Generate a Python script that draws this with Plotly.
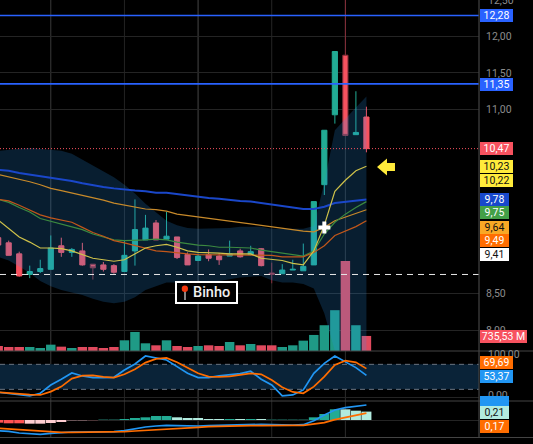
import plotly.graph_objects as go

candle_index = list(range(-1, 35))
opens = [9.26,9.19,9.04,8.76,8.80,8.83,9.15,9.06,9.08,8.90,8.89,8.88,8.80,9.08,9.23,9.46,9.24,9.27,9.03,8.95,9.03,9.01,9.01,9.08,9.03,9.11,8.78,8.77,8.82,8.81,8.89,9.98,10.93,11.74,10.66,10.90]
highs = [9.28,9.22,9.07,8.88,8.96,9.29,9.26,9.12,9.19,8.90,8.93,8.90,9.22,9.78,9.57,9.50,9.61,9.27,9.06,9.04,9.10,9.05,9.22,9.11,9.15,9.12,8.92,8.90,8.96,9.18,9.75,10.72,11.79,12.55,11.25,11.04]
lows = [9.16,9.02,8.73,8.71,8.78,8.83,9.00,9.00,8.88,8.69,8.80,8.77,8.80,8.88,9.23,9.23,9.23,8.97,8.89,8.95,8.94,8.89,9.01,8.99,9.02,8.87,8.64,8.77,8.82,8.81,8.89,9.84,10.81,10.65,10.66,10.42]
closes = [9.16,9.02,8.74,8.80,8.84,9.12,9.06,9.10,8.89,8.85,8.83,8.79,9.02,9.37,9.39,9.23,9.28,8.99,8.89,9.01,8.98,8.96,9.04,9.00,9.07,8.88,8.76,8.82,8.83,8.87,9.75,10.72,11.79,10.65,10.69,10.47]
volumes = [245,196,196,196,147,310,212,147,196,196,147,196,523,931,376,278,523,245,196,245,278,245,441,278,343,278,278,196,278,506,784,1259,1994,4395,1259,735.53]

ma_yellow = [9.50,9.39,9.27,9.20,9.12,9.12,9.11,9.08,9.03,8.98,8.96,8.94,8.96,9.04,9.12,9.15,9.17,9.13,9.08,9.06,9.06,9.05,9.04,9.04,9.04,8.98,8.97,8.95,8.91,8.89,9.08,9.43,9.89,10.04,10.17,10.23]
ma_dark_orange = [9.78,9.76,9.70,9.63,9.57,9.53,9.50,9.47,9.40,9.33,9.28,9.22,9.19,9.15,9.11,9.08,9.07,9.05,9.04,9.03,9.03,9.03,9.03,9.03,9.03,9.03,9.02,9.00,9.00,9.00,9.06,9.15,9.29,9.35,9.41,9.49]
ma_green = [9.78,9.74,9.67,9.61,9.52,9.48,9.45,9.41,9.37,9.31,9.27,9.23,9.22,9.22,9.23,9.24,9.23,9.20,9.18,9.16,9.15,9.13,9.13,9.12,9.12,9.09,9.07,9.05,9.03,9.01,9.08,9.31,9.47,9.58,9.67,9.75]
ma_blue = [10.18,10.17,10.14,10.12,10.09,10.07,10.05,10.03,10.00,9.97,9.95,9.93,9.91,9.90,9.89,9.87,9.87,9.85,9.83,9.82,9.80,9.79,9.77,9.76,9.75,9.73,9.71,9.69,9.67,9.65,9.65,9.68,9.73,9.75,9.76,9.78]
ma_orange = [10.12,10.09,10.06,10.02,9.98,9.93,9.90,9.87,9.83,9.80,9.77,9.73,9.70,9.67,9.65,9.64,9.62,9.58,9.56,9.54,9.52,9.50,9.48,9.46,9.44,9.42,9.40,9.39,9.37,9.35,9.34,9.40,9.49,9.54,9.58,9.64]
band_upper = [10.44,10.46,10.47,10.48,10.47,10.46,10.44,10.40,10.32,10.24,10.17,10.08,9.98,9.86,9.72,9.61,9.49,9.43,9.39,9.38,9.38,9.38,9.39,9.41,9.41,9.41,9.38,9.38,9.37,9.38,9.42,10.01,10.72,10.88,11.03,11.18]
band_lower = [9.00,8.95,8.87,8.78,8.67,8.60,8.55,8.52,8.48,8.43,8.39,8.37,8.39,8.45,8.55,8.60,8.65,8.65,8.65,8.65,8.66,8.67,8.70,8.72,8.73,8.74,8.68,8.65,8.65,8.63,8.57,8.23,7.72,7.38,7.25,7.11]

stoch_k = [12.9,10.5,6.5,4.1,10.5,30.5,44.1,59.3,52.1,48.1,48.1,48.9,66.5,80.9,100,96.1,90.5,74.5,58.5,48.1,48.1,52.1,55.3,57.7,63.3,44.1,30.5,4.1,6.5,18.5,58.5,82.5,100,86.5,72.1,53.37]
stoch_d = [12.9,10.5,8.9,7.3,6.5,14.5,26.5,45.7,52.9,53.7,49.7,48.1,56.1,68.1,84.1,92.9,95.3,84.9,72.1,58.5,50.5,49.7,51.3,54.5,58.5,56.1,42.5,24.9,13.7,10.5,26.5,50.5,78.5,88.9,84.9,69.69]

macd_line = [-.267,-.283,-.325,-.35,-.358,-.333,-.308,-.30,-.30,-.30,-.30,-.292,-.267,-.217,-.175,-.15,-.133,-.142,-.15,-.15,-.142,-.133,-.125,-.117,-.108,-.108,-.117,-.125,-.125,-.117,-.017,.125,.25,.308,.35,.375]
macd_signal = [-.208,-.225,-.25,-.275,-.292,-.30,-.308,-.308,-.308,-.308,-.308,-.30,-.292,-.275,-.258,-.233,-.217,-.208,-.192,-.183,-.167,-.158,-.15,-.15,-.142,-.142,-.133,-.133,-.133,-.133,-.108,-.067,.008,.067,.125,.17]
macd_hist = [-.067,-.083,-.083,-.092,-.092,-.075,-.05,-.025,-.025,-.017,.01,.01,.017,.042,.067,.1,.1,.067,.05,.05,.025,.025,.025,.025,.025,.025,.02,.015,.015,.01,.067,.15,.267,.267,.233,.21]
hist_kind = list("rrrppppqqdggtttttllllltltlggggtttlll")
dim_wick_candles = [8, 25, 32]

price_ticks = [8.0, 8.5, 11.0, 11.5, 12.0]
price_tick_text = ["8,00", "8,50", "11,00", "11,50", "12,00"]
level_lines = [12.28, 11.35]
last_close = 10.47
support = 8.76
cross_index, cross_price = 30, 9.40
grid_index = [4, 11, 18, 25, 32]
grid_colors = ["#3a3a3a", "#232323", "#454545", "#262626", "#2c2c2c"]

for series in (opens, highs, lows, closes, volumes, ma_yellow, ma_dark_orange, ma_green, ma_blue, ma_orange,
               band_upper, band_lower, stoch_k, stoch_d, macd_line, macd_signal, macd_hist, hist_kind):
    assert len(series) == len(candle_index), len(series)

GREEN, RED = "#22ab94", "#f7525f"
HIST = {"r": "#ff5252", "p": "#ffcdd2", "q": "#6b5558", "d": "#4a3436", "g": "#123f38",
        "t": "#22ab94", "l": "#b2ebdf"}
FONT = "Roboto"
W, H = 479.0, 438.0

def xp(px): return px / W
def yp(px): return 1 - px / H

fig = go.Figure()
fig.add_trace(go.Bar(x=candle_index, y=volumes, yaxis="y", width=0.9,
                     marker=dict(color=[("#1f9a86" if c >= o else "#e04a5e") for o, c in zip(opens, closes)],
                                 line=dict(width=0))))
def pick(seq, keep):
    return [v for i, v in zip(candle_index, seq) if (i in dim_wick_candles) == keep]
fig.add_trace(go.Candlestick(x=pick(candle_index, False), open=pick(opens, False), high=pick(highs, False),
                             low=pick(lows, False), close=pick(closes, False), yaxis="y2",
                             increasing=dict(line=dict(color=GREEN, width=1), fillcolor=GREEN),
                             decreasing=dict(line=dict(color=RED, width=1), fillcolor=RED),
                             whiskerwidth=0))
fig.add_trace(go.Candlestick(x=pick(candle_index, True), open=pick(opens, True), high=pick(highs, True),
                             low=pick(lows, True), close=pick(closes, True), yaxis="y2",
                             increasing=dict(line=dict(color=GREEN, width=1), fillcolor=GREEN),
                             decreasing=dict(line=dict(color="#8a2f3b", width=1), fillcolor=RED),
                             whiskerwidth=0))
fig.add_trace(go.Scatter(x=candle_index, y=band_upper, yaxis="y2", mode="lines", line=dict(width=0), showlegend=False))
fig.add_trace(go.Scatter(x=candle_index, y=band_lower, yaxis="y2", mode="lines", line=dict(width=0), fill="tonexty",
                         fillcolor="rgba(40,150,240,0.2)"))
for vals, col, w in [(ma_blue, "#1a47c9", 2), (ma_orange, "#c88a2a", 1.2), (ma_green, "#3c8a40", 1.2),
                     (ma_dark_orange, "#c2571a", 1.2), (ma_yellow, "#cfc24a", 1.2)]:
    fig.add_trace(go.Scatter(x=candle_index, y=vals, yaxis="y2", mode="lines", line=dict(color=col, width=w)))
fig.add_trace(go.Scatter(x=[cross_index], y=[cross_price], yaxis="y2", mode="markers",
                         marker=dict(symbol="cross", size=10, color="white", line=dict(width=0))))
fig.add_trace(go.Scatter(x=candle_index, y=stoch_k, yaxis="y3", mode="lines", line=dict(color="#2196f3", width=1.7)))
fig.add_trace(go.Scatter(x=candle_index, y=stoch_d, yaxis="y3", mode="lines", line=dict(color="#ff6d00", width=1.7)))
fig.add_trace(go.Bar(x=candle_index, y=macd_hist, yaxis="y4", width=0.95,
                     marker=dict(color=[HIST[k] for k in hist_kind], line=dict(width=0))))
fig.add_trace(go.Scatter(x=candle_index, y=macd_line, yaxis="y4", mode="lines", line=dict(color="#2196f3", width=1.7)))
fig.add_trace(go.Scatter(x=candle_index, y=macd_signal, yaxis="y4", mode="lines", line=dict(color="#ff6d00", width=1.7)))

shapes = []
for i, c in zip(grid_index, grid_colors):
    shapes.append(dict(type="line", xref="x", yref="paper", x0=i, x1=i, y0=0, y1=1, layer="below", line=dict(color=c, width=1)))
for lv in level_lines:
    shapes.append(dict(type="line", xref="paper", yref="y2", x0=0, x1=1, y0=lv, y1=lv, line=dict(color="#2962ff", width=1.6)))
shapes.append(dict(type="line", xref="paper", yref="y2", x0=0, x1=1, y0=last_close, y1=last_close,
                   line=dict(color="#f7525f", width=1, dash="1px,2px")))
shapes.append(dict(type="line", xref="paper", yref="y2", x0=0, x1=1, y0=support, y1=support,
                   line=dict(color="#e8e8e8", width=1, dash="6px,5px")))
shapes.append(dict(type="rect", xref="paper", yref="y3", x0=0, x1=1, y0=20, y1=80, layer="below",
                   fillcolor="#0a2338", line=dict(width=0)))
for v in (20, 80):
    shapes.append(dict(type="line", xref="paper", yref="y3", x0=0, x1=1, y0=v, y1=v, layer="below",
                       line=dict(color="#6a7480", width=1, dash="5px,4px")))
for p in (351, 401, 437.5):
    shapes.append(dict(type="line", xref="paper", yref="paper", x0=0, x1=533 / W, y0=yp(p), y1=yp(p),
                       line=dict(color="#444444", width=1.2)))
shapes.append(dict(type="line", xref="paper", yref="paper", x0=1, x1=1, y0=0, y1=yp(0), line=dict(color="#444444", width=1.2)))
def path(pts):
    return "M " + " L ".join(f"{xp(a):.4f},{yp(b):.4f}" for a, b in pts) + " Z"
shapes.append(dict(type="path", xref="paper", yref="paper", fillcolor="#ffeb3b", line=dict(width=0),
                   path=path([(377, 167), (387, 158.5), (387, 163), (395, 163), (395, 171), (387, 171), (387, 175.5)])))
shapes.append(dict(type="rect", xref="paper", yref="paper", x0=xp(176), x1=xp(237), y0=yp(303), y1=yp(282),
                   fillcolor="#000000", line=dict(color="#ffffff", width=2)))
shapes.append(dict(type="line", xref="paper", yref="paper", x0=xp(185), x1=xp(185), y0=yp(300), y1=yp(290),
                   line=dict(color="#b0b0b0", width=1.5)))
shapes.append(dict(type="circle", xref="paper", yref="paper", x0=xp(181.7), x1=xp(188), y0=yp(292), y1=yp(285.5),
                   fillcolor="#f4380f", line=dict(width=0)))

annotations = []
def label(text, ypx, bg, fg="#ffffff", width=33):
    annotations.append(dict(xref="paper", yref="paper", x=xp(480), y=yp(ypx), xanchor="left", yanchor="middle",
                            text=text, showarrow=False, bgcolor=bg, width=width, height=13, borderpad=0, borderwidth=0,
                            align="center", font=dict(family=FONT, size=10.5, color=fg)))
for t, ypx in [("12,50", 1), ("100,00", 354), ("0,00", 395)]:
    annotations.append(dict(xref="paper", yref="paper", x=xp(486), y=yp(ypx), xanchor="left", yanchor="middle",
                            text=t, showarrow=False, font=dict(family=FONT, size=10.5, color="#8c8c8c")))
label("12,28", 15.5, "#2962ff")
label("11,35", 84.5, "#2962ff")
label("10,47", 149, "#f7525f")
label("10,23", 166.5, "#ffeb3b", "#111111")
label("10,22", 180, "#ffeb3b", "#111111")
label("9,78", 199.5, "#1848cc", width=29)
label("9,75", 213, "#43a047", width=29)
label("9,64", 227, "#f9a825", "#111111", width=29)
label("9,49", 240, "#ff6d00", width=29)
label("9,41", 254, "#ffffff", "#111111", width=29)
label("735,53\u00a0M", 336, "#f7525f", width=47)
label("\u00a0", 402, "#2196f3", width=29)
label("69,69", 362, "#ff6d00", width=33)
label("53,37", 376, "#2196f3", width=33)
label("0,21", 412.5, "#b2ebdf", "#111111", width=29)
label("0,17", 426.5, "#ff6d00", width=29)
annotations.append(dict(xref="paper", yref="paper", x=xp(190.5), y=yp(292.7), xanchor="left", yanchor="middle",
                        text="Binho", showarrow=False, font=dict(family=FONT, size=14.5, color="#f0f0f0", weight=500)))

common = dict(showline=False, zeroline=False, ticks="")
fig.update_layout(
    width=533, height=444, margin=dict(l=0, r=54, t=0, b=6),
    paper_bgcolor="#000000", plot_bgcolor="#000000", showlegend=False, barmode="overlay",
    xaxis=dict(range=[-0.827, 44.7], rangeslider=dict(visible=False), showgrid=False, showticklabels=False, **common),
    yaxis=dict(domain=[87 / H, 1], range=[0, 350 * 49], showgrid=False, showticklabels=False, **common),
    yaxis2=dict(domain=[87 / H, 1], overlaying="y", side="right", range=[7.72, 12.49], tickvals=price_ticks,
                ticktext=price_tick_text, showgrid=True, gridcolor="#242424", gridwidth=1,
                tickfont=dict(family=FONT, size=10.5, color="#8c8c8c"), ticklabelstandoff=6, **common),
    yaxis3=dict(domain=[37 / H, 87 / H], range=[-8, 112], tickvals=[0], showgrid=True, gridcolor="#242424",
                showticklabels=False, **common),
    yaxis4=dict(domain=[0, 37 / H], range=[-0.45, 0.475], tickvals=[0], showgrid=True, gridcolor="#242424",
                showticklabels=False, **common),
    shapes=shapes, annotations=annotations,
)
for t in fig.data:
    t.hoverinfo = "skip"
fig.write_html("out.html", config=dict(displayModeBar=False),
               post_script="document.body.style.margin='0';document.body.style.overflow='hidden';document.body.style.background='#000';")
